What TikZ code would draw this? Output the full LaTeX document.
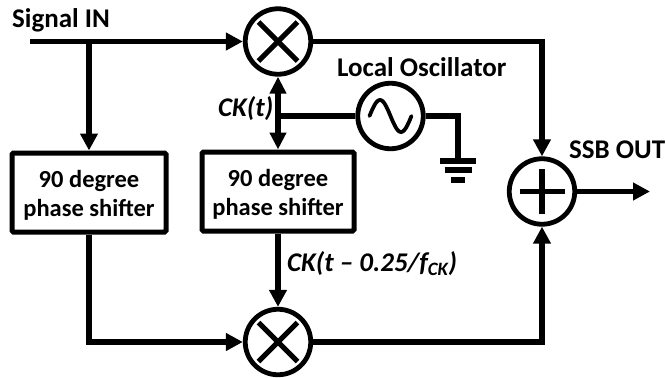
\documentclass[tikz,border=0pt]{standalone}
\usepackage{fontspec}
\setmainfont{Carlito}
\usetikzlibrary{arrows.meta}
\newcommand{\shiftertext}{\rule{0pt}{22pt}90 degree\\phase shifter}
\tikzset{
  wire/.style={line width=5.2pt},
  sig/.style={wire,-{Triangle[length=17pt,width=17pt]}},
  sigboth/.style={wire,{Triangle[length=17pt,width=16pt]}-{Triangle[length=17pt,width=16pt]}},
  ring/.style={circle,draw,line width=4.8pt,minimum size=65.5pt,inner sep=0pt},
  shifter/.style={draw,line width=5pt,rounded corners=1.5pt,align=center,minimum height=79pt,inner sep=0pt,font=\fontsize{24.5}{29}\selectfont\bfseries},
  lbl/.style={inner sep=0pt,anchor=west,font=\fontsize{27}{29}\selectfont\bfseries},
  lblit/.style={lbl,font=\fontsize{27}{29}\selectfont\bfseries\itshape}
}
\begin{document}
\begin{tikzpicture}[x=1pt,y=-1pt]
  \useasboundingbox (0,0) rectangle (665,378);
  \node [ring] (mixA) at (278,41.5) {};
  \node [ring] (mixB) at (278,342) {};
  \node [ring] (sum) at (542,191.5) {};
  \node [ring] (osc) at (390.5,116) {};
  \node [shifter,minimum width=154pt] (boxA) at (89,192.5) {\shiftertext};
  \node [shifter,minimum width=152pt] (boxB) at (278,191.5) {\shiftertext};
  \coordinate (in) at (30,41.5);
  \coordinate (tap) at (89,41.5);
  \coordinate (ck) at (278,116);
  \coordinate (gnd) at (458,161);
  \coordinate (out) at (650,191.5);
  % signal paths
  \draw [sig] (in) -- (mixA);
  \draw [sig] (tap) -- (boxA);
  \draw [sig] (boxA) |- (mixB);
  \draw [sig] (mixA) -| (sum);
  \draw [sig] (mixB) -| (sum);
  \draw [sig] (sum) -- (out);
  % clock paths
  \draw [sigboth] (mixA) -- (boxB);
  \draw [wire] (ck) -- (osc);
  \draw [sig] (boxB) -- (mixB);
  \draw [wire] (osc) -| (gnd);
  % ground bars
  \foreach \y/\w in {0/18,9/13.5,19/7}{
    \draw [wire] ([xshift=-\w pt,yshift=-\y pt]gnd) -- ([xshift=\w pt,yshift=-\y pt]gnd);
  }
  % ring symbols
  \foreach \m in {mixA,mixB}{
    \draw [wire] ([shift={(-19.5,-19.5)}]\m.center) -- ([shift={(19.5,19.5)}]\m.center);
    \draw [wire] ([shift={(-19.5,19.5)}]\m.center) -- ([shift={(19.5,-19.5)}]\m.center);
  }
  \draw [wire] ([xshift=-22.5pt]sum.center) -- ([xshift=22.5pt]sum.center);
  \draw [wire] ([yshift=-22.5pt]sum.center) -- ([yshift=22.5pt]sum.center);
  \draw [line width=3.8pt,line cap=round,shift={(osc.center)}] plot [domain=-1:1,samples=41,smooth] ({21*\x},{16*sin(180*\x)});
  % labels
  \node [lbl] (sigin) at (12,20) {Signal IN};
  \node [lbl] (lo) at (337,67) {Local Oscillator};
  \node [lbl] (ssb) at (569,150) {SSB OUT};
  \node [lblit] (cka) at (218,109) {CK(t)};
  \node [lblit] (ckb) at (287,264) {CK(t -- 0.25/f\textsubscript{CK})};
\end{tikzpicture}
\end{document}
